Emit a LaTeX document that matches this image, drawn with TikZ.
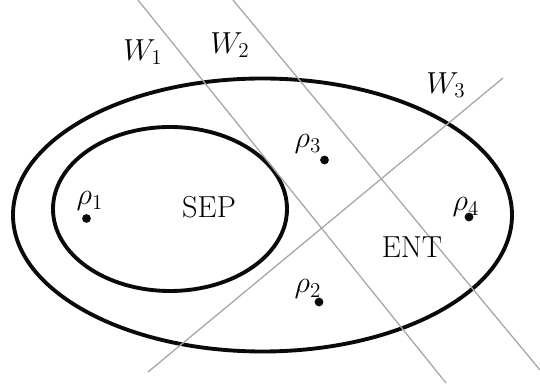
\documentclass[tikz,border=0pt]{standalone}
\usepackage{xcolor}
\usepackage{tikz}
\usetikzlibrary{positioning}
\definecolor{setBlack}{HTML}{0A0A0A}
\definecolor{wGray}{HTML}{A8A8A8}

\tikzset{
  setline/.style={draw=setBlack, line width=2.2pt},
  witness/.style={draw=wGray, line width=0.75pt},
  statedot/.style={circle, fill=setBlack, inner sep=0pt, minimum size=5pt},
}

\begin{document}
\begin{tikzpicture}[every node/.style={font=\fontsize{17.28}{20}\selectfont}]
  \useasboundingbox (0,0) rectangle (10.8,7.74);

  % the two convex sets
  \draw[setline] (5.25,3.44) ellipse (4.99cm and 2.73cm);
  \draw[setline] (3.4,3.56) ellipse (2.34cm and 1.64cm);

  % witness hyperplanes
  \coordinate (w1a) at (2.76,7.74);
  \coordinate (w1b) at (8.92,0.08);
  \coordinate (w2a) at (4.66,7.74);
  \coordinate (w2b) at (10.8,0.34);
  \coordinate (w3a) at (2.96,0.3);
  \coordinate (w3b) at (10.06,6.18);
  \draw[witness] (w1a) -- (w1b);
  \draw[witness] (w2a) -- (w2b);
  \draw[witness] (w3a) -- (w3b);

  \node (lw1) at (2.86,6.7) {$W_1$};
  \node (lw2) at (4.6,6.84) {$W_2$};
  \node (lw3) at (8.92,6.04) {$W_3$};

  % set names
  \node (sep) at (4.18,3.6) {SEP};
  \node (ent) at (8.24,2.79) {ENT};

  % states
  \node[statedot] (r1) at (1.73,3.37) {};
  \node (lr1) at (1.8,3.72) {$\rho_1$};
  \node[statedot] (r2) at (6.38,1.7) {};
  \node (lr2) at (6.16,1.96) {$\rho_2$};
  \node[statedot] (r3) at (6.49,4.54) {};
  \node (lr3) at (6.16,4.86) {$\rho_3$};
  \node[statedot] (r4) at (9.38,3.4) {};
  \node (lr4) at (9.32,3.6) {$\rho_4$};
\end{tikzpicture}
\end{document}
